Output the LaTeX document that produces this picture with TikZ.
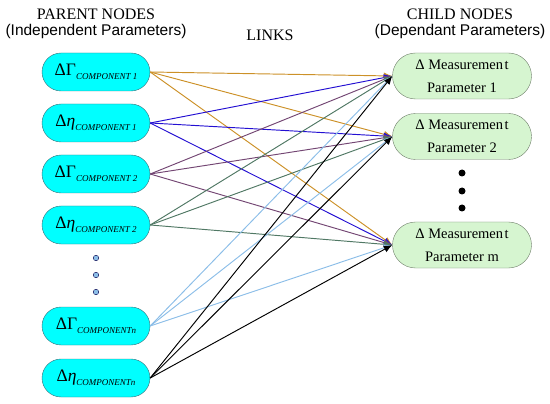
\documentclass[tikz,border=0pt]{standalone}
\usepackage{fontspec}
\setmainfont{Liberation Serif}
\setsansfont{Liberation Sans}
\usetikzlibrary{arrows.meta}
\definecolor{parentfill}{RGB}{0,255,255}
\definecolor{parentline}{RGB}{60,110,120}
\definecolor{childfill}{RGB}{214,245,208}
\definecolor{childline}{RGB}{110,125,105}
\definecolor{linkorange}{RGB}{204,145,40}
\definecolor{linkblue}{RGB}{35,15,210}
\definecolor{linkpurple}{RGB}{115,70,115}
\definecolor{linkgreen}{RGB}{80,120,100}
\definecolor{linklight}{RGB}{140,190,232}
\newcommand{\paramlabel}[2]{#1\raisebox{-0.55ex}{\fontsize{9}{9}\selectfont\itshape #2}}

\begin{document}
\begin{tikzpicture}[x=1pt, y=-1pt, >={Latex[length=8.5pt,width=7pt]},
  parent/.style={draw=parentline, fill=parentfill, rounded corners=19pt,
    minimum width=108pt, minimum height=38pt, inner sep=0pt,
    font=\fontsize{17.5}{17.5}\selectfont},
  child/.style={draw=childline, fill=childfill, rounded corners=23pt,
    minimum width=139pt, minimum height=46pt, inner sep=0pt, align=center,
    font=\fontsize{14.5}{23}\selectfont},
  pdot/.style={circle, draw=black!70!blue, fill=linklight, inner sep=0pt, minimum size=5.5pt},
  cdot/.style={circle, fill=black, inner sep=0pt, minimum size=7pt},
  heading/.style={font=\fontsize{16}{16}\selectfont},
  subheading/.style={font=\sffamily\fontsize{15.5}{15.5}\selectfont}]

  \useasboundingbox (0,0) rectangle (550,404);

  % Column titles
  \node[heading]    (parenttitle) at (96,14)  {PARENT NODES};
  \node[subheading] (parentsub)   at (96,31)  {(Independent Parameters)};
  \node[heading]    (linkstitle)  at (270,35) {LINKS};
  \node[heading]    (childtitle)  at (460,14) {CHILD NODES};
  \node[subheading] (childsub)    at (460,31) {(Dependant Parameters)};

  % Parent nodes
  \node[parent] (GammaA) at (96,72)  {\paramlabel{ΔΓ}{COMPONENT 1}};
  \node[parent] (EtaA)   at (96,123) {\paramlabel{Δ\textit{η}}{COMPONENT 1}};
  \node[parent] (GammaB) at (96,174) {\paramlabel{ΔΓ}{COMPONENT 2}};
  \node[parent] (EtaB)   at (96,225) {\paramlabel{Δ\textit{η}}{COMPONENT 2}};
  \node[parent] (GammaN) at (96,326) {\paramlabel{ΔΓ}{COMPONENTn}};
  \node[parent] (EtaN)   at (96,378) {\paramlabel{Δ\textit{η}}{COMPONENTn}};

  \foreach \y [count=\i] in {258,275,292}
    \node[pdot] (pdot\i) at (96,\y) {};

  % Child nodes
  \node[child] (ChildA) at (462,76)    {Δ Measuremen\hspace{1.5pt}t\\Parameter 1};
  \node[child] (ChildB) at (462,136.5) {Δ Measuremen\hspace{1.5pt}t\\Parameter 2};
  \node[child] (ChildM) at (462,245)   {Δ Measuremen\hspace{1.5pt}t\\Parameter m};

  \foreach \y [count=\i] in {173,191,208}
    \node[cdot] (cdot\i) at (462,\y) {};

  % Links from every parent to every child
  \foreach \p/\c in {GammaA/linkorange, EtaA/linkblue, GammaB/linkpurple,
                     EtaB/linkgreen, GammaN/linklight, EtaN/black}
    \foreach \ch in {ChildA,ChildB,ChildM}
      \draw[->, \c, line width=0.95pt] (\p.east) -- (\ch.west);

\end{tikzpicture}
\end{document}
